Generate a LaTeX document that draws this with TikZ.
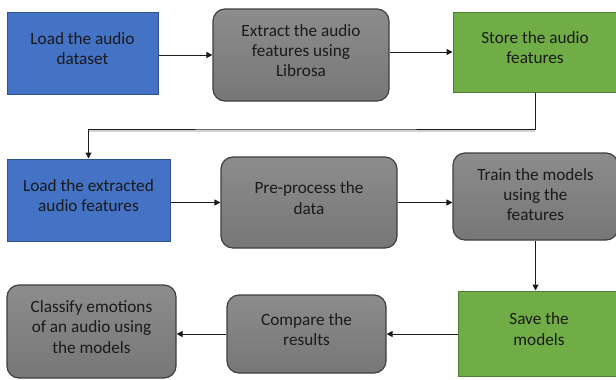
\documentclass[tikz,border=0pt]{standalone}
\usepackage{fontspec}
\setmainfont{Carlito}
\usepackage{tikz}
\usetikzlibrary{arrows.meta,positioning}
\definecolor{ink}{HTML}{1A1A1A}
\definecolor{bluefill}{HTML}{4472C4}
\definecolor{blueedge}{HTML}{2F528F}
\definecolor{greenfill}{HTML}{70AD47}
\definecolor{greenedge}{HTML}{507E32}
\definecolor{greytop}{HTML}{8C8C8C}
\definecolor{greybot}{HTML}{777777}
\definecolor{greyedge}{HTML}{3F3F3F}
\newlength{\pxu}
\setlength{\pxu}{0.75pt}
% stacked lines, lifted a little inside the box
\newcommand{\cardtext}[2][2pt]{\raisebox{#1}[\height][\depth]{\begin{tabular}{@{}c@{}}#2\end{tabular}}}

\begin{document}
\begin{tikzpicture}[x=0.75pt,y=-0.75pt,
 every node/.style={font=\fontsize{12.9}{15.3}\selectfont,text=ink,inner sep=0pt},
 bluebox/.style={draw=blueedge,fill=bluefill,line width=0.75pt},
 greenbox/.style={draw=greenedge,fill=greenfill,line width=0.75pt},
 greybox/.style={draw=greyedge,top color=greytop,bottom color=greybot,rounded corners=9pt,line width=0.9pt},
 flow/.style={draw=ink,line width=0.75pt,-{Triangle[length=4.5pt,width=4.5pt]}},
 lineshade/.style={draw=gray!35,line width=1.5pt}]
\useasboundingbox (0,0) rectangle (616,379);

% first row
\node[bluebox,minimum width=151\pxu,minimum height=82\pxu] (load) at (82.5,53) {\cardtext{Load the audio\\dataset}};
\node[greybox,minimum width=176\pxu,minimum height=92\pxu] (extract) at (301,55) {\cardtext{Extract the audio\\features using\\Librosa}};
\node[greenbox,minimum width=164\pxu,minimum height=80\pxu] (store) at (535,52) {\cardtext{Store the audio\\features}};

% second row
\node[bluebox,minimum width=163\pxu,minimum height=82\pxu] (loadx) at (88.5,200) {\cardtext{Load the extracted\\audio features}};
\node[greybox,minimum width=176\pxu,minimum height=91\pxu] (prep) at (309,202.5) {\cardtext{Pre-process the\\data}};
\node[greybox,minimum width=165\pxu,minimum height=87\pxu] (train) at (535.5,196.5) {\cardtext[0pt]{Train the models\\using the\\features}};

% third row, read right to left
\node[greenbox,minimum width=162\pxu,minimum height=85\pxu] (save) at (539,333.5) {\cardtext{Save the\\models}};
\node[greybox,minimum width=159\pxu,minimum height=78\pxu] (compare) at (306.5,334) {\cardtext{Compare the\\results}};
\node[greybox,minimum width=169\pxu,minimum height=93\pxu] (classify) at (91.5,331.5) {\cardtext{Classify emotions\\of an audio using\\the models}};

% connectors
\coordinate (turn) at (300,129);
\draw[flow] (load.east |- extract.west) -- (extract.west);
\draw[flow] (extract.east |- store.west) -- (store.west);
\draw[lineshade] (turn -| loadx.north) ++(0,1.8) -- ++(446,0);
\draw[flow] (store.south) |- (turn) -| (loadx.north);
\draw[flow] (loadx.east |- prep.west) -- (prep.west);
\draw[flow] (prep.east) -- (prep.east -| train.west);
\draw[flow] (train.south) -- (train.south |- save.north);
\draw[flow] (save.west |- compare.east) -- (compare.east);
\draw[flow] (compare.west) -- (compare.west -| classify.east);
\end{tikzpicture}
\end{document}
